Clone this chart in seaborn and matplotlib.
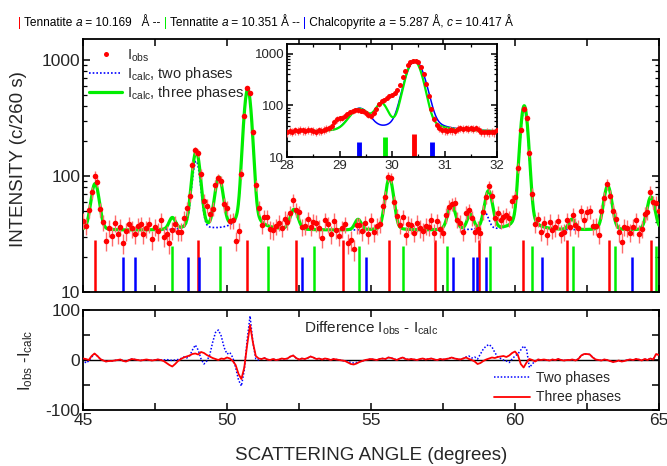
import matplotlib
matplotlib.use("Agg")
import matplotlib.pyplot as plt
from matplotlib.lines import Line2D
from matplotlib.ticker import MultipleLocator, LogLocator, FixedLocator, NullFormatter, FuncFormatter
import numpy as np
import seaborn as sns

sns.set_theme(style="ticks")
plt.rcParams['font.family'] = ['Liberation Sans', 'DejaVu Sans']
plt.rcParams['mathtext.fontset'] = 'custom'
plt.rcParams['mathtext.rm'] = 'Liberation Sans'
plt.rcParams['mathtext.it'] = 'Liberation Sans:italic'
plt.rcParams['mathtext.default'] = 'regular'

# ---------------- data ----------------
# main pattern, 45-65 deg (obs sampled every 0.1 deg)
theta_start, theta_stop, theta_step = 45.0, 65.0, 0.1
background = 34

# three-phase fit: peak position, height above background, fwhm
peaks3_pos = [45.42, 48.10, 48.93, 49.72, 50.72, 52.33, 54.55, 55.64, 57.80, 58.45, 59.08, 60.32, 61.98, 63.22, 64.72]
peaks3_hgt = [52, 9, 128, 62, 525, 17, 8, 62, 22, 12, 40, 370, 8, 48, 32]
peaks3_fwhm = [0.30, 0.25, 0.30, 0.30, 0.28, 0.30, 0.25, 0.30, 0.30, 0.25, 0.30, 0.28, 0.25, 0.30, 0.30]

# two-phase fit
peaks2_pos = [45.42, 48.93, 50.72, 52.33, 55.64, 57.80, 58.95, 60.32, 63.22, 64.72]
peaks2_hgt = [52, 100, 520, 17, 62, 22, 14, 345, 48, 32]
peaks2_fwhm = [0.30, 0.30, 0.28, 0.30, 0.30, 0.30, 0.30, 0.28, 0.30, 0.30]

# difference curves (every 0.1 deg, 45.0 ... 65.0)
diff_three = [
    3, 2, 0, 8, 13, 8, 2, -1, -3, -2,
    -2, -1, 0, 1, -2, -3, 0, 2, 1, 0,
    -1, 0, 1, 0, -1, 0, 1, 0, -2, -6,
    -10, -13, -8, -2, 2, 5, 7, 9, 12, 13,
    11, 16, 14, 10, 7, 4, 2, 0, 3, 2,
    5, 3, -2, -10, -28, -38, -15, 30, 70, 35,
    8, 3, 2, 4, 1, 0, 2, 0, 1, 3,
    2, 3, 7, 9, 4, 1, 3, 2, 4, 7,
    5, 2, 3, 1, 3, 2, 0, 2, 1, 0,
    -1, -2, -5, -8, -9, -7, -4, -2, 0, 1,
    2, 1, 0, 2, 3, 2, 5, 4, 2, 0,
    3, 5, 2, 1, 2, 1, 0, 2, 3, 1,
    2, 3, 1, 0, 2, 1, 2, 3, 5, 3,
    2, 1, 3, 5, 2, 0, -3, -8, -6, -2,
    1, 3, 5, 4, 6, 7, 8, 6, 9, 14,
    17, 10, -8, -15, -5, 2, 0, -3, 1, 0,
    1, 0, -1, 1, 0, 2, 0, -1, 0, 0,
    1, -1, 2, 9, 12, 12, 11, 5, 1, 0,
    -1, 1, 0, -2, -4, -3, -1, -3, -2, 0,
    1, 0, 2, 1, -1, 2, 0, 3, 1, 12,
    10]
diff_two = [
    2, -6, -2, 6, 12, 8, 2, -1, -3, -2,
    -2, -1, 0, 1, -2, -3, 0, 2, 1, 0,
    -1, 0, 1, 0, -1, 0, 1, 0, 0, 1,
    0, -1, 0, 1, 3, 6, 4, 8, 20, 30,
    20, 2, -8, -2, 10, 35, 55, 60, 48, 25,
    12, 15, 5, -15, -40, -52, -20, 40, 88, 35,
    2, 0, 2, 4, 1, 0, 2, 0, 1, 3,
    2, 3, 7, 9, 4, 1, 3, 2, 4, 7,
    5, 2, 3, 1, 3, 2, 0, 2, 1, 0,
    -1, -2, -3, -5, -6, -5, -3, -2, 0, 1,
    2, 1, 0, 2, 3, 2, 5, 4, 2, 0,
    3, 5, 2, 1, 2, 1, 0, 2, 3, 1,
    2, 3, 1, 0, 2, 1, 2, 3, 5, 3,
    2, 1, 3, 6, 8, 4, 6, 2, 12, 22,
    28, 31, 26, 15, 6, 3, 0, -2, -5, 2,
    8, 12, 20, 28, 22, -15, -8, -2, 1, 0,
    1, 0, -1, 1, 0, 2, 0, -1, 0, 0,
    1, -1, 2, 9, 12, 12, 11, 5, 1, 0,
    -1, 1, 0, -2, -4, -3, -1, -3, -2, 0,
    1, 0, 2, 1, -1, 2, 0, 3, 1, 12,
    10]
# point-to-point scatter of the observed counts
scatter_obs = [
    3, -2, 4, -3, 2, 5, -4, 1, -5, 3,
    -2, 6, -3, 1, -6, 2, 4, -1, -4, 3,
    5, -3, 0, 4, -5, 2, -2, 7, -3, 1,
    -4, 3, 6, -2, -5, 1, 4, -3, 2, -6,
    3, 0, -4, 5, -1, -3, 6, -2, 1, -5,
    4, -2, 3, -6, 2, 5, -1, -4, 3, 0,
    -3, 4, -5, 2, 6, -2, -4, 1, 3, -3,
    5, -1, -4, 2, -2, 6, -3, 0, 4, -5,
    1, 3, -2, -6, 4, 2, -3, 5, -1, -4,
    2, 6, -3, 1, -5, 3, 0, -2, 4, -4,
    5, -3, 2, -1, 6, -4, 1, 3, -5, 2,
    -2, 4, -6, 3, 1, -3, 5, -1, -4, 2,
    0, 4, -3, 6, -2, -5, 3, 1, -4, 5,
    -1, 2, -6, 4, 3, -2, -4, 6, -1, 1,
    -3, 5, 2, -5, 4, -2, 0, 3, -4, 6,
    -2, 1, 4, -3, -6, 2, 5, -1, 3, -4,
    2, -5, 6, -2, 1, 4, -3, -1, 5, -4,
    3, 0, -2, 6, -5, 2, 4, -3, 1, -6,
    5, -1, 3, -4, 2, 6, -2, -5, 4, 1,
    -3, 2, 5, -4, 0, 3, -6, 4, -2, 1,
    2]

# reflection markers (positions, bar top)
refl_red = [45.41, 48.98, 50.71, 52.40, 54.04, 55.64, 57.21, 58.76, 60.29, 61.79, 63.26, 64.73]
refl_green = [48.08, 49.77, 51.41, 53.02, 54.57, 56.10, 57.63, 59.13, 60.59, 62.03, 63.47, 64.89]
refl_blue = [46.40, 46.81, 48.63, 49.04, 52.60, 54.83, 57.84, 58.53, 58.67, 59.00, 60.93, 64.05]
refl_top = {"red": 28, "green": 25, "blue": 20}

# inset 28-32 deg (obs every 0.05 deg)
ins_start, ins_stop, ins_step = 28.0, 32.0, 0.05
ins_background = 31
ins_obs = [
    30, 32, 31, 33, 32, 34, 33, 32, 34, 33,
    32, 31, 33, 32, 34, 35, 36, 40, 48, 54,
    56, 58, 62, 68, 74, 78, 80, 80, 79, 78,
    72, 66, 62, 70, 85, 105, 122, 130, 140, 150,
    160, 175, 200, 250, 350, 470, 600, 700, 745, 740,
    690, 560, 400, 260, 150, 85, 55, 42, 37, 34,
    33, 32, 34, 33, 32, 35, 36, 35, 36, 35,
    36, 35, 36, 34, 31, 30, 31, 30, 31, 30,
    34]
ins3_pos = [29.38, 29.80, 30.42]
ins3_hgt = [52, 72, 712]
ins3_fwhm = [0.40, 0.25, 0.30]
ins2_pos = [29.38, 30.44]
ins2_hgt = [55, 705]
ins2_fwhm = [0.40, 0.34]
ins_refl_red = [30.41]
ins_refl_green = [29.87]
ins_refl_blue = [29.38, 30.77]
ins_refl_top = {"red": 27.6, "green": 24.8, "blue": 19.8}

RED, GREEN, BLUE = '#ff0000', '#00ee00', '#0000ff'


def profile(x, pos, hgt, fwhm, bg):
    """Pseudo-Voigt sum for the refined peaks."""
    y = np.full_like(x, float(bg))
    for c, h, w in zip(pos, hgt, fwhm):
        d = (x - c) / w
        y += h * (0.85 * np.exp(-4 * np.log(2) * d ** 2) + 0.15 / (1 + 4 * d ** 2))
    return y


theta = np.round(np.arange(theta_start, theta_stop + 1e-9, theta_step), 2)
fine = np.linspace(theta_start, theta_stop, 2001)
calc3 = profile(fine, peaks3_pos, peaks3_hgt, peaks3_fwhm, background)
calc2 = profile(fine, peaks2_pos, peaks2_hgt, peaks2_fwhm, background)
obs = profile(theta, peaks3_pos, peaks3_hgt, peaks3_fwhm, background) + np.array(diff_three) + np.array(scatter_obs)

ins_theta = np.round(np.arange(ins_start, ins_stop + 1e-9, ins_step), 2)
ins_fine = np.linspace(ins_start, ins_stop, 801)
ins_calc3 = profile(ins_fine, ins3_pos, ins3_hgt, ins3_fwhm, ins_background)
ins_calc2 = profile(ins_fine, ins2_pos, ins2_hgt, ins2_fwhm, ins_background)
ins_obs = np.array(ins_obs, dtype=float)

# ---------------- figure ----------------
W, H = 667, 466
fig = plt.figure(figsize=(W / 100, H / 100), dpi=100)


def px_axes(l, t, r, b):
    return fig.add_axes([l / W, 1 - b / H, (r - l) / W, (b - t) / H])


ax = px_axes(83, 39, 659, 292)
axd = px_axes(83, 310, 659, 410)
axi = px_axes(287, 44, 497, 157)


def style_axes(a, size):
    for s in a.spines.values():
        s.set_linewidth(1.3)
        s.set_color('black')
    a.tick_params(which='both', direction='in', top=True, right=True, color='black',
                  labelsize=size, pad=2)
    a.tick_params(which='major', length=5, width=1.1)
    a.tick_params(which='minor', length=3, width=0.9)
    a.set_facecolor('white')


# main panel
sns.lineplot(x=fine, y=calc2, ax=ax, color=BLUE, lw=1.2, linestyle=(0, (1, 1.2)), zorder=2)
sns.lineplot(x=fine, y=calc3, ax=ax, color=GREEN, lw=2.3, zorder=3)
ax.errorbar(theta, obs, yerr=np.sqrt(obs), fmt='o', color=RED, ms=4.0, mew=0, ecolor='#ff6a6a',
            elinewidth=1.0, capsize=0, zorder=4)
ax.vlines(refl_red, 10, refl_top["red"], color=RED, lw=1.8, zorder=2)
ax.vlines(refl_green, 10, refl_top["green"], color=GREEN, lw=1.8, zorder=2)
ax.vlines(refl_blue, 10, refl_top["blue"], color=BLUE, lw=1.8, zorder=2)
ax.set_yscale('log')
ax.set_xlim(45, 65)
ax.set_ylim(10, 1520)
ax.xaxis.set_major_locator(MultipleLocator(2.5))
ax.xaxis.set_major_formatter(NullFormatter())
ax.yaxis.set_major_locator(FixedLocator([10, 100, 1000]))
ax.yaxis.set_major_formatter(FuncFormatter(lambda v, p: f"{v:g}"))
ax.yaxis.set_minor_locator(LogLocator(base=10, subs=np.arange(2, 10)))
ax.yaxis.set_minor_formatter(NullFormatter())
style_axes(ax, 12.5)
ax.set_xlabel('')
ax.set_ylabel('INTENSITY (c/260 s)', fontsize=13.5)
ax.yaxis.set_label_coords(-0.097, 0.526)

handles = [
    Line2D([], [], color=RED, marker='o', ms=3.6, mew=0, ls='none'),
    Line2D([], [], color=BLUE, lw=1.2, ls=(0, (1, 1.2))),
    Line2D([], [], color=GREEN, lw=2.3),
]
ax.legend(handles, ['I$_{obs}$', 'I$_{calc}$, two phases', 'I$_{calc}$, three phases'],
          loc='upper left', frameon=False, fontsize=10.5, handlelength=2.3,
          handletextpad=0.3, labelspacing=0.08, borderaxespad=0.0,
          bbox_to_anchor=(0.0, 0.99))

# inset
sns.lineplot(x=ins_fine, y=ins_calc2, ax=axi, color=BLUE, lw=1.1, zorder=2)
sns.lineplot(x=ins_fine, y=ins_calc3, ax=axi, color=GREEN, lw=1.6, zorder=3)
axi.errorbar(ins_theta, ins_obs, yerr=np.sqrt(ins_obs), fmt='o', color=RED, ms=3.6, mew=0,
             ecolor='#ff6a6a', elinewidth=0.9, capsize=0, zorder=4)
axi.vlines(ins_refl_red, 10, ins_refl_top["red"], color=RED, lw=3.5)
axi.vlines(ins_refl_green, 10, ins_refl_top["green"], color=GREEN, lw=3.5)
axi.vlines(ins_refl_blue, 10, ins_refl_top["blue"], color=BLUE, lw=3.5)
axi.set_yscale('log')
axi.set_xlim(28, 32)
axi.set_ylim(10, 1560)
axi.xaxis.set_major_locator(MultipleLocator(1))
axi.xaxis.set_minor_locator(MultipleLocator(0.5))
axi.yaxis.set_major_locator(FixedLocator([10, 100, 1000]))
axi.yaxis.set_major_formatter(FuncFormatter(lambda v, p: f"{v:g}"))
axi.yaxis.set_minor_locator(LogLocator(base=10, subs=np.arange(2, 10)))
axi.yaxis.set_minor_formatter(NullFormatter())
style_axes(axi, 9.5)
axi.tick_params(which='major', length=4)
axi.tick_params(which='minor', length=2)
axi.set_xlabel('')
axi.set_ylabel('')

# difference panel
axd.axhline(0, color='black', lw=1.0, zorder=1)
sns.lineplot(x=theta, y=diff_two, ax=axd, color=BLUE, lw=1.1, linestyle=(0, (1, 1.2)), zorder=2)
sns.lineplot(x=theta, y=diff_three, ax=axd, color=RED, lw=1.3, zorder=3)
axd.set_xlim(45, 65)
axd.set_ylim(-100, 100)
axd.xaxis.set_major_locator(MultipleLocator(5))
axd.xaxis.set_minor_locator(MultipleLocator(2.5))
axd.yaxis.set_major_locator(FixedLocator([-100, 0, 100]))
axd.yaxis.set_minor_locator(FixedLocator([-50, 50]))
axd.yaxis.set_major_formatter(FuncFormatter(lambda v, p: f"{v:g}"))
style_axes(axd, 12.5)
axd.tick_params(which='minor', length=5, width=1.1)
axd.set_xlabel('SCATTERING ANGLE (degrees)', fontsize=13.5)
axd.xaxis.set_label_coords(0.5, -0.37)
axd.set_ylabel('I$_{obs}$ -I$_{calc}$', fontsize=12)
axd.yaxis.set_label_coords(-0.083, 0.5)
axd.text(0.5, 0.82, 'Difference I$_{obs}$ - I$_{calc}$', transform=axd.transAxes,
         ha='center', va='center', fontsize=11)
dh = [Line2D([], [], color=BLUE, lw=1.1, ls=(0, (1, 1.2))), Line2D([], [], color=RED, lw=1.3)]
axd.legend(dh, ['Two phases', 'Three phases'], loc='lower right', frameon=False,
           fontsize=10, handlelength=2.6, handletextpad=0.4, labelspacing=0.4,
           bbox_to_anchor=(0.955, -0.07))

# header with phase colours, laid out piece by piece
header = [
    ('|', RED, 'normal'), (' Tennatite ', 'black', 'normal'), ('a', 'black', 'italic'),
    (' = 10.169   Å -- ', 'black', 'normal'),
    ('|', GREEN, 'normal'), (' Tennatite ', 'black', 'normal'), ('a', 'black', 'italic'),
    (' = 10.351 Å -- ', 'black', 'normal'),
    ('|', BLUE, 'normal'), (' Chalcopyrite ', 'black', 'normal'), ('a', 'black', 'italic'),
    (' = 5.287 Å, ', 'black', 'normal'), ('c', 'black', 'italic'),
    (' = 10.417 Å', 'black', 'normal'),
]
renderer = fig.canvas.get_renderer()
xpos = 18.0
yb = 1 - 26 / H
for s, c, st in header:
    t = fig.text(xpos / W, yb, s, color=c, fontsize=8.6, style=st, va='baseline', ha='left')
    xpos = t.get_window_extent(renderer).x1

fig.savefig('out.png', dpi=100)
